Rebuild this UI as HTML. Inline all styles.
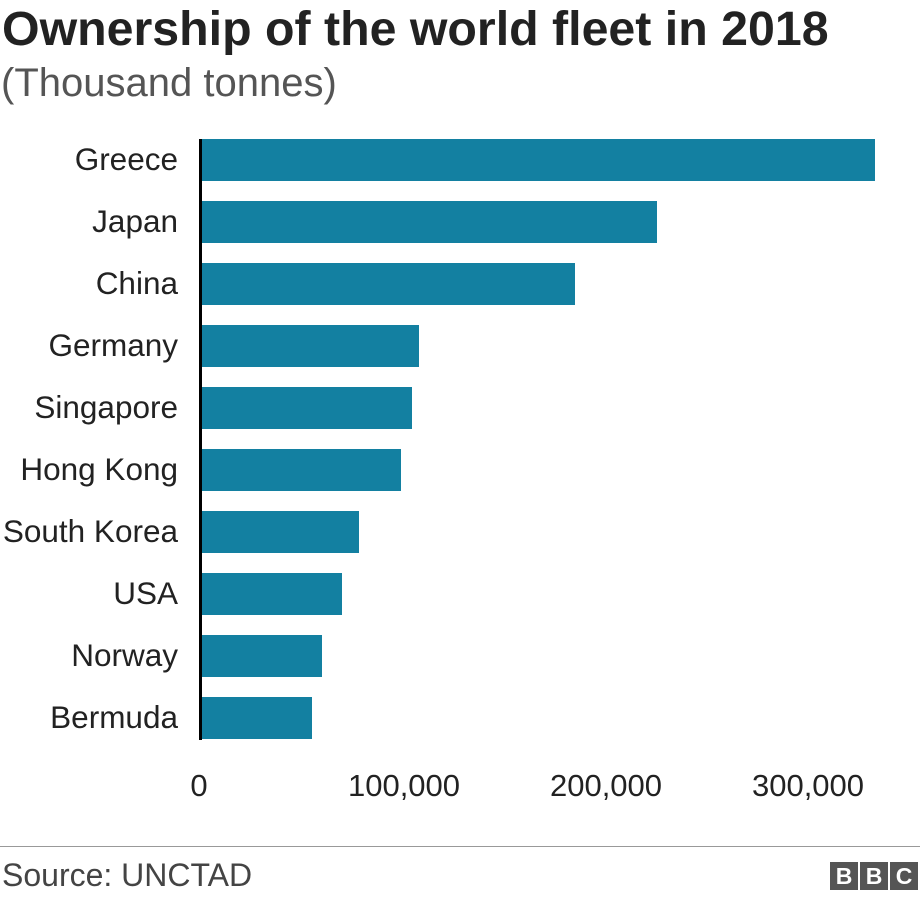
<!DOCTYPE html>
<html><head><meta charset="utf-8"><style>
body{margin:0;background:#fff;width:920px;height:902px;position:relative;font-family:"Liberation Sans",Arial,sans-serif;overflow:hidden}
.t{position:absolute;left:2px;top:0px;font-size:48.3px;font-weight:bold;color:#222;line-height:58px}
.s{position:absolute;left:1px;top:60px;font-size:40px;color:#555;line-height:46px}
.l{position:absolute;right:742px;font-size:31.5px;color:#222;white-space:nowrap;line-height:42px}
.b{position:absolute;left:201px;height:42px;background:#1380a1}
.x{position:absolute;top:767px;font-size:31px;color:#222;transform:translateX(-50%);line-height:38px}
.ax{position:absolute;left:199px;top:139px;width:3px;height:601px;background:#000}
.f{position:absolute;left:0;top:846px;width:920px;height:1px;background:#999}
.src{position:absolute;left:2px;top:856px;font-size:32px;color:#444;line-height:38px}
.bbc{position:absolute;top:862px;width:28px;height:28px;background:#555;color:#fff;font-weight:bold;font-size:23px;text-align:center;line-height:28px}
</style></head><body>
<div class="t">Ownership of the world fleet in 2018</div>
<div class="s">(Thousand tonnes)</div>
<div class="l" style="top:138px">Greece</div><div class="b" style="top:139px;width:674px"></div>
<div class="l" style="top:200px">Japan</div><div class="b" style="top:201px;width:456px"></div>
<div class="l" style="top:262px">China</div><div class="b" style="top:263px;width:374px"></div>
<div class="l" style="top:324px">Germany</div><div class="b" style="top:325px;width:218px"></div>
<div class="l" style="top:386px">Singapore</div><div class="b" style="top:387px;width:211px"></div>
<div class="l" style="top:448px">Hong Kong</div><div class="b" style="top:449px;width:200px"></div>
<div class="l" style="top:510px">South Korea</div><div class="b" style="top:511px;width:158px"></div>
<div class="l" style="top:572px">USA</div><div class="b" style="top:573px;width:141px"></div>
<div class="l" style="top:634px">Norway</div><div class="b" style="top:635px;width:121px"></div>
<div class="l" style="top:696px">Bermuda</div><div class="b" style="top:697px;width:111px"></div>
<div class="ax"></div>
<div class="x" style="left:199px">0</div>
<div class="x" style="left:404px">100,000</div>
<div class="x" style="left:606px">200,000</div>
<div class="x" style="left:808px">300,000</div>
<div class="f"></div>
<div class="src">Source: UNCTAD</div>
<div class="bbc" style="left:830px">B</div>
<div class="bbc" style="left:860px">B</div>
<div class="bbc" style="left:890px">C</div>
</body></html>
